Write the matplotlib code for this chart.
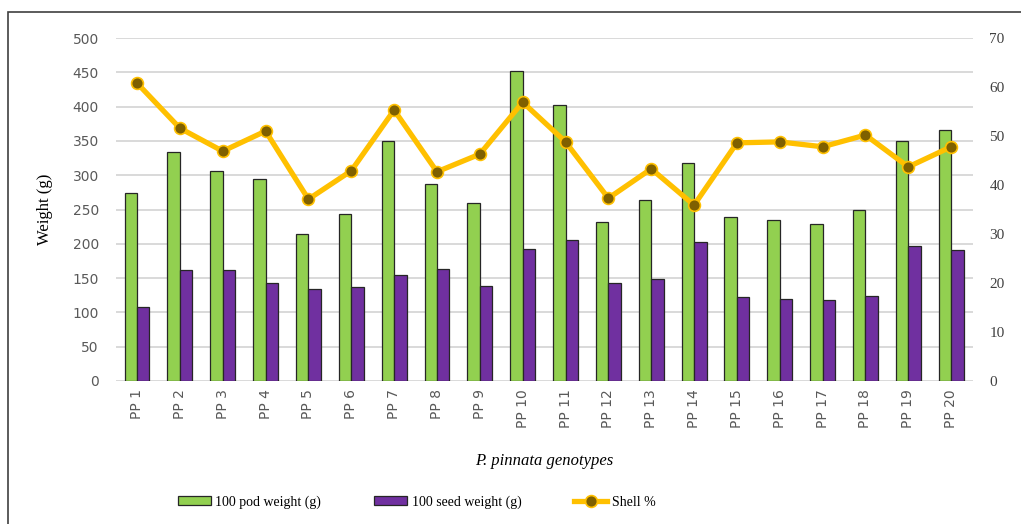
import numpy as np
import matplotlib.pyplot as plt
from matplotlib.patches import Rectangle

genotypes = [f"PP {i}" for i in range(1, 21)]
pod_weight = [274, 334, 306, 294, 214, 243, 350, 287, 259, 452,
              402, 232, 264, 318, 239, 235, 229, 249, 350, 366]
seed_weight = [108, 162, 162, 143, 134, 137, 155, 163, 138, 192,
               205, 143, 149, 203, 122, 119, 118, 124, 197, 191]
shell_pct = [60.8, 51.6, 46.9, 51.0, 37.1, 42.9, 55.3, 42.7, 46.3, 56.9,
             48.8, 37.3, 43.3, 35.9, 48.6, 48.8, 47.8, 50.2, 43.7, 47.8]

serif = "Liberation Serif"
fig = plt.figure(figsize=(10.21, 5.24), dpi=100)
fig.patches.append(Rectangle((8/1021, -0.05), 1.1, 0.05 + (524-12)/524,
                             transform=fig.transFigure, fill=False,
                             lw=1.2, ec="#404040"))
ax = fig.add_axes([115.6/1021, 143/524, 857/1021, 343/524])
x = np.arange(len(genotypes))
w = 0.29
ax.bar(x - w/2, pod_weight, w, color="#92D050", ec="#262626", lw=0.9,
       label="100 pod weight (g)", zorder=3)
ax.bar(x + w/2, seed_weight, w, color="#7030A0", ec="#262626", lw=0.9,
       label="100 seed weight (g)", zorder=3)
ax.set_ylim(0, 500)
ax.set_xlim(-0.5, len(genotypes) - 0.5)
ax.set_yticks(range(0, 501, 50))
ax.yaxis.grid(True, color="#d9d9d9", lw=1.4, zorder=0)
ax.set_axisbelow(True)
for s in ax.spines.values():
    s.set_visible(False)
ax.tick_params(length=0, colors="#595959", labelsize=10, pad=12)
ax.tick_params(axis="x", pad=6)
ax.set_xticks(x)
ax.set_xticklabels(genotypes, rotation=90, va="top")
ax.set_ylabel("Weight (g)", family=serif, fontsize=12, color="black", labelpad=14)
ax.set_xlabel("P. pinnata genotypes", family=serif, style="italic",
              fontsize=12, labelpad=18)

ax2 = ax.twinx()
ax2.plot(x, shell_pct, color="#FFC000", lw=3.8, marker="o", ms=8.5,
         mfc="#7F6000", mec="#FFC000", mew=1.2, label="Shell %", zorder=4)
ax2.set_ylim(0, 70)
ax2.set_yticks(range(0, 71, 10))
for s in ax2.spines.values():
    s.set_visible(False)
ax2.tick_params(length=0, colors="#404040", labelsize=11, pad=12)
for t in ax2.get_yticklabels():
    t.set_family(serif)

h1, l1 = ax.get_legend_handles_labels()
h2, l2 = ax2.get_legend_handles_labels()
fig.legend(h1 + h2, l1 + l2, loc="center", bbox_to_anchor=(0.408, 0.042),
           ncol=3, frameon=False, prop={"family": serif, "size": 10},
           handlelength=2.4, handleheight=0.65, handletextpad=0.3,
           columnspacing=3.8)
fig.savefig("out.png", dpi=100)
